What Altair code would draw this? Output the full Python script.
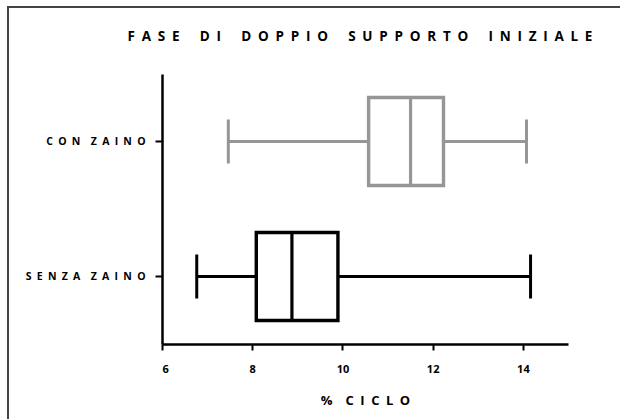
import altair as alt
import pandas as pd

# Box-plot summary per condition: lower whisker, Q1, median, Q3, upper whisker (% of gait cycle)
groups = ["CON ZAINO", "SENZA ZAINO"]
whisker_low = [7.47, 6.77]
q1 = [10.58, 8.09]
median = [11.51, 8.88]
q3 = [12.24, 9.90]
whisker_high = [14.08, 14.17]
colors = ["#969696", "#000000"]

EN = "\u2002"


def spaced(text, letter_gap=EN, word_gap=EN + EN):
    """Spread out the letters of a caption the way the figure typesets it."""
    return word_gap.join(letter_gap.join(word) for word in text.split(" "))


labels = [spaced(g, letter_gap=EN, word_gap=EN + EN) for g in groups]

df = pd.DataFrame({
    "group": labels,
    "lo": whisker_low,
    "q1": q1,
    "med": median,
    "q3": q3,
    "hi": whisker_high,
})

FONT = "Open Sans"

y_enc = alt.Y(
    "group:N",
    sort=labels,
    title=None,
    scale=alt.Scale(paddingInner=0, paddingOuter=0),
    axis=alt.Axis(
        domainColor="black", domainWidth=2.5, tickColor="black", tickWidth=2,
        tickSize=7, labelFont=FONT, labelFontSize=10.5, labelFontWeight="bold",
        labelColor="black", labelPadding=10,
    ),
)
color_enc = alt.Color(
    "group:N", scale=alt.Scale(domain=labels, range=colors), legend=None
)
x_scale = alt.Scale(domain=[6, 15], nice=False, zero=False)
x_axis = alt.Axis(
    values=[6, 8, 10, 12, 14], title=spaced("% CICLO", word_gap=EN + EN),
    domainColor="black", domainWidth=2.5, tickColor="black", tickWidth=2,
    tickSize=6, labelFont=FONT, labelFontSize=11, labelFontWeight="bold",
    labelColor="black", labelPadding=13, titleFont=FONT, titleFontSize=13,
    titleFontWeight="bold", titleColor="black", titlePadding=20, grid=False,
)

base = alt.Chart(df)

whisker_left = base.mark_rule(strokeWidth=3).encode(
    x=alt.X("lo:Q", scale=x_scale, axis=x_axis), x2="q1:Q", y=y_enc, color=color_enc
)
whisker_right = base.mark_rule(strokeWidth=3).encode(
    x=alt.X("q3:Q", scale=x_scale), x2="hi:Q", y=y_enc, color=color_enc
)
box = base.mark_bar(size=88, fill="white", strokeWidth=3.4).encode(
    x=alt.X("q1:Q", scale=x_scale), x2="q3:Q", y=y_enc, stroke=color_enc
)
med_tick = base.mark_tick(size=88, thickness=3.2, opacity=1).encode(
    x=alt.X("med:Q", scale=x_scale), y=y_enc, color=color_enc
)
cap_low = base.mark_tick(size=44, thickness=3, opacity=1).encode(
    x=alt.X("lo:Q", scale=x_scale), y=y_enc, color=color_enc
)
cap_high = base.mark_tick(size=44, thickness=3, opacity=1).encode(
    x=alt.X("hi:Q", scale=x_scale), y=y_enc, color=color_enc
)

# Outer frame of the figure: an unfilled rectangle whose right and bottom
# edges run past the canvas, so only its top and left sides show
frame = alt.Chart(pd.DataFrame({"k": [0]})).mark_rect(
    fill="transparent", stroke="#444444", strokeWidth=2
).encode(
    x=alt.value(-154), x2=alt.value(480), y=alt.value(-67), y2=alt.value(370)
)

# The frame sits above the plot, so the title is pulled back down below it
chart = alt.layer(
    frame, whisker_left, whisker_right, box, med_tick, cap_low, cap_high
).properties(
    width=406,
    height=270,
    title=alt.TitleParams(
        spaced("FASE DI DOPPIO SUPPORTO INIZIALE", word_gap=EN + EN + EN),
        font=FONT, fontSize=13.5, fontWeight="bold", color="black",
        anchor="middle", frame="group", baseline="alphabetic", offset=-48, dx=-5,
    ),
    autosize=alt.AutoSizeParams(type="none"),
    padding={"left": 162, "top": 74, "right": 52, "bottom": 75},
).configure_view(strokeOpacity=0, strokeWidth=0)

chart.save("out.html", embed_options={"renderer": "svg", "actions": False})
